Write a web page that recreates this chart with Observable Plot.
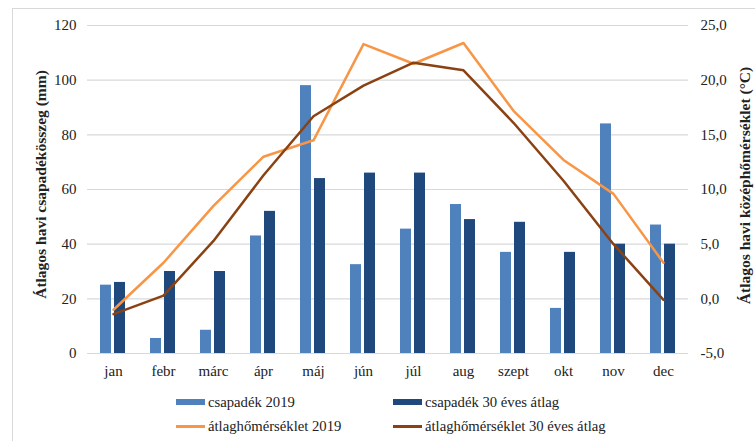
<!DOCTYPE html>
<html>
<head>
<meta charset="utf-8">
<script src="https://cdn.jsdelivr.net/npm/d3@7"></script>
<script src="https://cdn.jsdelivr.net/npm/@observablehq/plot@0.6"></script>
<style>
  body { margin: 0; background: #fff; font-family: "Liberation Serif", "DejaVu Serif", serif; }
  #frame { position: absolute; left: 12px; top: 8px; width: 800px; height: 500px; border: 1px solid #d9d9d9; box-sizing: border-box; }
  #chart { position: absolute; left: 0; top: 0; }
  #chart svg, #chart svg text { font-family: "Liberation Serif", "DejaVu Serif", serif !important; }
  #legend { position: absolute; left: 0; top: 0; width: 755px; height: 441px; pointer-events: none; font-size: 14.7px; color: #222; font-family: "Liberation Serif", "DejaVu Serif", serif; }
  .item { position: absolute; display: flex; align-items: center; white-space: nowrap; }
  .sw { display: inline-block; width: 29px; margin-right: 3px; }
</style>
</head>
<body>
<div id="frame"></div>
<div id="chart"></div>
<div id="legend"></div>
<script>
const months = ["jan","febr","márc","ápr","máj","jún","júl","aug","szept","okt","nov","dec"];
const rain2019 = [25, 5.5, 8.5, 43, 98, 32.5, 45.5, 54.5, 37, 16.5, 84, 47];
const rain30 = [26, 30, 30, 52, 64, 66, 66, 49, 48, 37, 40, 40];
const temp2019 = [-1.0, 3.3, 8.5, 13.0, 14.5, 23.3, 21.5, 23.4, 17.2, 12.7, 9.6, 3.3];
const temp30 = [-1.4, 0.3, 5.3, 11.3, 16.7, 19.5, 21.6, 20.9, 16.1, 10.8, 5.0, -0.1];
const leftTicks = [0, 20, 40, 60, 80, 100, 120];
const rightTicks = [-5, 0, 5, 10, 15, 20, 25];

const seriesNames = ["csapadék 2019", "csapadék 30 éves átlag", "átlaghőmérséklet 2019", "átlaghőmérséklet 30 éves átlag"];
const colors = ["#4f81bd", "#1f497d", "#f79646", "#8b4212"];

// secondary axis: temperature (-5..25) mapped onto precipitation scale (0..120)
const t2y = t => (t + 5) * 4;

const rainA = months.map((m, i) => ({month: m, v: rain2019[i]}));
const rainB = months.map((m, i) => ({month: m, v: rain30[i]}));
const tA = months.map((m, i) => ({month: m, v: t2y(temp2019[i])}));
const tB = months.map((m, i) => ({month: m, v: t2y(temp30[i])}));

const chart = Plot.plot({
  width: 755,
  height: 385,
  marginTop: 25,
  marginBottom: 32,
  marginLeft: 87,
  marginRight: 67,
  style: {fontFamily: "Liberation Serif, DejaVu Serif, serif", fontSize: "15px", color: "#222", background: "transparent"},
  x: {domain: months, padding: 0, label: null},
  y: {domain: [0, 120], label: null},
  marks: [
    Plot.gridY(leftTicks, {stroke: "#d9d9d9", strokeOpacity: 1, strokeWidth: 1.2}),
    Plot.axisY(leftTicks, {anchor: "left", tickSize: 0, tickPadding: 11, label: null, fontSize: 15}),
    Plot.axisY(rightTicks.map(t2y), {anchor: "right", tickSize: 0, tickPadding: 12, label: null, fontSize: 15,
      tickFormat: d => (d / 4 - 5).toFixed(1).replace(".", ",")}),
    Plot.axisX({tickSize: 0, tickPadding: 12, label: null, fontSize: 15}),
    Plot.barY(rainA, {x: "month", y: "v", fill: colors[0], insetLeft: 12, insetRight: 27}),
    Plot.barY(rainB, {x: "month", y: "v", fill: colors[1], insetLeft: 26, insetRight: 13}),
    Plot.line(tA, {x: "month", y: "v", stroke: colors[2], strokeWidth: 2.5, strokeLinejoin: "round"}),
    Plot.line(tB, {x: "month", y: "v", stroke: colors[3], strokeWidth: 2.5, strokeLinejoin: "round"}),
    Plot.text(["Átlagos havi csapadékösszeg (mm)"], {frameAnchor: "left", textAnchor: "middle", dx: -46, dy: -5, rotate: -90, fontWeight: "bold", fontSize: 15.5}),
    Plot.text(["Átlagos havi középhőmérséklet (°C)"], {frameAnchor: "right", textAnchor: "middle", dx: 57, dy: -4, rotate: -90, fontWeight: "bold", fontSize: 15.5})
  ]
});
document.getElementById("chart").appendChild(chart);

const legend = document.getElementById("legend");
const pos = [[176, 402], [393, 402], [176, 426], [393, 426]];
seriesNames.forEach((name, i) => {
  const it = document.createElement("div");
  it.className = "item";
  it.style.left = pos[i][0] + "px";
  it.style.top = (pos[i][1] - 9) + "px";
  it.style.height = "18px";
  const sw = document.createElement("span");
  sw.className = "sw";
  sw.style.height = i < 2 ? "6px" : "3px";
  sw.style.background = colors[i];
  const tx = document.createElement("span");
  tx.textContent = name;
  it.appendChild(sw);
  it.appendChild(tx);
  legend.appendChild(it);
});
</script>
</body>
</html>
